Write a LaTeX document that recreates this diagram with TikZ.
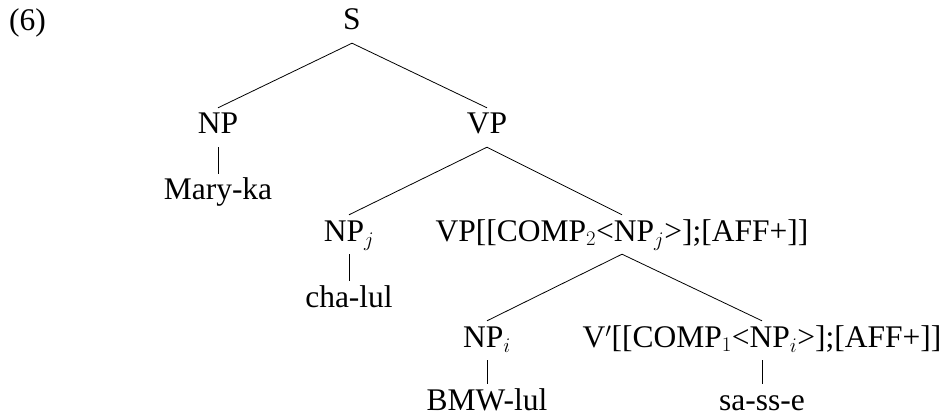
\documentclass[tikz,border=0pt]{standalone}
\usepackage{fontspec}
\setmainfont{Liberation Serif}
\begin{document}
\begin{tikzpicture}[x=1pt,y=-1pt,
  lab/.style={anchor=base,inner xsep=0pt,inner ysep=5pt,text height=21pt,text depth=8pt,
    font=\fontsize{31.5}{38}\selectfont},
  edge/.style={line width=0.8pt}]
\useasboundingbox (0,0) rectangle (948,417);
\node[lab,anchor=base west] (ex) at (9,31) {(6)};
\node[lab] (S) at (352,30) {S};
\node[lab] (NP) at (218,134) {NP};
\node[lab] (VP) at (487,134) {VP};
\node[lab] (Mary) at (218,200) {Mary-ka};
\node[lab] (NPj) at (349,241) {NP$_j$};
\node[lab] (VPb) at (622,241) {VP[[COMP$_2$<NP$_j$>];[AFF+]]};
\node[lab] (cha) at (349,307) {cha-lul};
\node[lab] (NPi) at (487,347) {NP$_i$};
\node[lab] (Vb) at (762,347) {V$'$[[COMP$_1$<NP$_i$>];[AFF+]]};
\node[lab] (BMW) at (487,410) {BMW-lul};
\node[lab] (sa) at (762,410) {sa-ss-e};
\draw[edge] (S.south) -- (NP.north);
\draw[edge] (S.south) -- (VP.north);
\draw[edge] (NP.south) -- (Mary.north);
\draw[edge] (VP.south) -- (NPj.north);
\draw[edge] (VP.south) -- (VPb.north);
\draw[edge] (NPj.south) -- (cha.north);
\draw[edge] (VPb.south) -- (NPi.north);
\draw[edge] (VPb.south) -- (Vb.north);
\draw[edge] (NPi.south) -- (BMW.north);
\draw[edge] (Vb.south) -- (sa.north);
\end{tikzpicture}
\end{document}
